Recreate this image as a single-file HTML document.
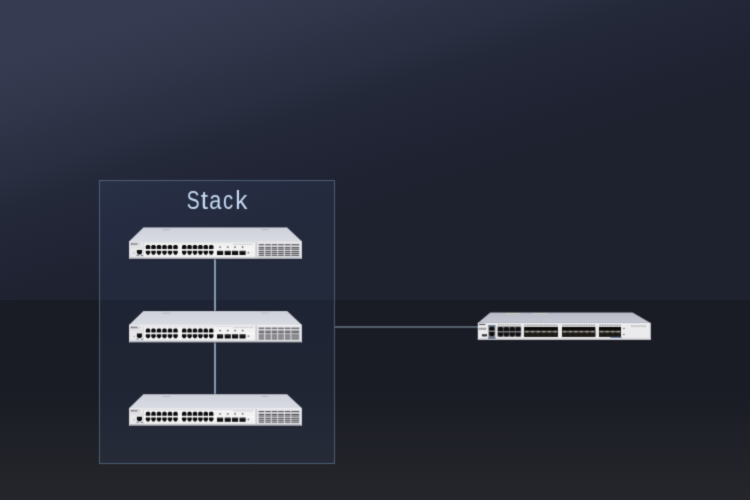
<!DOCTYPE html>
<html><head><meta charset="utf-8"><style>
html,body{margin:0;padding:0;width:750px;height:500px;overflow:hidden;background:#1c1e27;}
svg{display:block;}
</style></head><body>
<svg width="750" height="500" viewBox="0 0 750 500">
<defs>
<linearGradient id="bgTop" x1="18.3" y1="56.8" x2="98.2" y2="304.6" gradientUnits="userSpaceOnUse">
<stop offset="0" stop-color="#363b51"/>
<stop offset="0.2" stop-color="#31364b"/>
<stop offset="0.32" stop-color="#2c3144"/>
<stop offset="0.43" stop-color="#292e40"/>
<stop offset="0.54" stop-color="#24293a"/>
<stop offset="0.65" stop-color="#222637"/>
<stop offset="0.76" stop-color="#202434"/>
<stop offset="0.88" stop-color="#1f2230"/>
<stop offset="1" stop-color="#1e212e"/>
</linearGradient>
<linearGradient id="bgBot" x1="0" y1="300" x2="0" y2="500" gradientUnits="userSpaceOnUse">
<stop offset="0" stop-color="#191b25"/>
<stop offset="0.45" stop-color="#1a1c25"/>
<stop offset="1" stop-color="#25262b"/>
</linearGradient>
<linearGradient id="topA" x1="0" y1="-13.9" x2="0" y2="0" gradientUnits="userSpaceOnUse">
<stop offset="0" stop-color="#cfd1db"/>
<stop offset="1" stop-color="#d9dbe3"/>
</linearGradient>
<linearGradient id="topB" x1="0" y1="-10.2" x2="0" y2="0" gradientUnits="userSpaceOnUse">
<stop offset="0" stop-color="#b8bbc7"/>
<stop offset="1" stop-color="#c5c7d1"/>
</linearGradient>
<linearGradient id="sfp" x1="0" y1="0" x2="0" y2="1">
<stop offset="0" stop-color="#0b0a09"/>
<stop offset="0.3" stop-color="#14120f"/>
<stop offset="0.45" stop-color="#9a968e"/>
<stop offset="0.55" stop-color="#7e7a72"/>
<stop offset="0.72" stop-color="#1f1c18"/>
<stop offset="1" stop-color="#221f1a"/>
</linearGradient>
<filter id="soft" x="-5%" y="-5%" width="110%" height="110%" color-interpolation-filters="sRGB"><feConvolveMatrix order="3" kernelMatrix="0.0225 0.1050 0.0225 0.1050 0.4900 0.1050 0.0225 0.1050 0.0225" divisor="1" edgeMode="none" preserveAlpha="false"/></filter>
<g id="swA"><polygon points="14.4,-13.9 158.1,-13.9 173,0 0,0" fill="url(#topA)"/><rect x="14.4" y="-13.9" width="143.7" height="0.7" fill="#c3c5cf"/><rect x="33.8" y="-12.2" width="7.6" height="1" fill="#b3b5c0"/><rect x="132.4" y="-12.3" width="7.2" height="1" fill="#b3b5c0"/><rect x="0" y="0" width="173" height="17.4" fill="#e8e8eb"/><rect x="0" y="0" width="173" height="0.8" fill="#f2f2f4"/><rect x="0" y="15.8" width="173" height="1.6" fill="#b9bbc2"/><rect x="0" y="17.4" width="173" height="1.2" fill="#141722" opacity="0.45"/><polygon points="14.4,-15 158.1,-15 158.1,-13.9 14.4,-13.9" fill="#141722" opacity="0.3"/><rect x="0" y="0" width="0.7" height="17.4" fill="#d2d3d9"/><rect x="172.1" y="0" width="0.9" height="17.4" fill="#cdced5"/><rect x="1.2" y="1" width="10" height="3.2" fill="#d2d2d6"/><rect x="2" y="1.9" width="1.3" height="1.3" fill="#5c5c62"/><rect x="3.6" y="1.9" width="1.1" height="1.3" fill="#5c5c62"/><rect x="5" y="1.9" width="0.6" height="1.3" fill="#5c5c62"/><rect x="5.9" y="1.9" width="0.6" height="1.3" fill="#5c5c62"/><rect x="6.8" y="1.9" width="1.1" height="1.3" fill="#5c5c62"/><rect x="1.2" y="5.6" width="13.2" height="0.5" fill="#d0d0d5"/><rect x="14.3" y="1" width="0.6" height="15" fill="#cfcfd4"/><path d="M7.9,8.6 L13,8.6 L13,11.3 L11.98,13.1 L8.92,13.1 L7.9,11.3 Z" fill="#0e0e10"/><rect x="7.5" y="13.7" width="2.2" height="0.9" fill="#5a6c8e"/><rect x="11.9" y="13.7" width="2.2" height="0.9" fill="#5a6c8e"/><rect x="4.5" y="11" width="1.1" height="1.3" fill="#a2a2a8"/><rect x="14.6" y="1.5" width="112" height="14.3" fill="#f2f2f3" stroke="#d2d3d8" stroke-width="0.5"/><rect x="15.5" y="8" width="110" height="1.1" fill="#fbfbfb"/><path d="M16.8,7.5 L16.8,4.9 L17.8,3.5 L20.2,3.5 L21.2,4.9 L21.2,7.5 Z" fill="#0a0a0c"/><path d="M16.8,9.3 L21.2,9.3 L21.2,11.3 L20,13.3 L18,13.3 L16.8,11.3 Z" fill="#0a0a0c"/><path d="M22.3,7.5 L22.3,4.9 L23.3,3.5 L25.7,3.5 L26.7,4.9 L26.7,7.5 Z" fill="#0a0a0c"/><path d="M22.3,9.3 L26.7,9.3 L26.7,11.3 L25.5,13.3 L23.5,13.3 L22.3,11.3 Z" fill="#0a0a0c"/><path d="M27.8,7.5 L27.8,4.9 L28.8,3.5 L31.2,3.5 L32.2,4.9 L32.2,7.5 Z" fill="#0a0a0c"/><path d="M27.8,9.3 L32.2,9.3 L32.2,11.3 L31,13.3 L29,13.3 L27.8,11.3 Z" fill="#0a0a0c"/><path d="M33.3,7.5 L33.3,4.9 L34.3,3.5 L36.7,3.5 L37.7,4.9 L37.7,7.5 Z" fill="#0a0a0c"/><path d="M33.3,9.3 L37.7,9.3 L37.7,11.3 L36.5,13.3 L34.5,13.3 L33.3,11.3 Z" fill="#0a0a0c"/><path d="M38.8,7.5 L38.8,4.9 L39.8,3.5 L42.2,3.5 L43.2,4.9 L43.2,7.5 Z" fill="#0a0a0c"/><path d="M38.8,9.3 L43.2,9.3 L43.2,11.3 L42,13.3 L40,13.3 L38.8,11.3 Z" fill="#0a0a0c"/><path d="M44.3,7.5 L44.3,4.9 L45.3,3.5 L47.7,3.5 L48.7,4.9 L48.7,7.5 Z" fill="#0a0a0c"/><path d="M44.3,9.3 L48.7,9.3 L48.7,11.3 L47.5,13.3 L45.5,13.3 L44.3,11.3 Z" fill="#0a0a0c"/><path d="M53,7.5 L53,4.9 L54,3.5 L56.4,3.5 L57.4,4.9 L57.4,7.5 Z" fill="#0a0a0c"/><path d="M53,9.3 L57.4,9.3 L57.4,11.3 L56.2,13.3 L54.2,13.3 L53,11.3 Z" fill="#0a0a0c"/><path d="M58.4,7.5 L58.4,4.9 L59.4,3.5 L61.8,3.5 L62.8,4.9 L62.8,7.5 Z" fill="#0a0a0c"/><path d="M58.4,9.3 L62.8,9.3 L62.8,11.3 L61.6,13.3 L59.6,13.3 L58.4,11.3 Z" fill="#0a0a0c"/><path d="M63.8,7.5 L63.8,4.9 L64.8,3.5 L67.2,3.5 L68.2,4.9 L68.2,7.5 Z" fill="#0a0a0c"/><path d="M63.8,9.3 L68.2,9.3 L68.2,11.3 L67,13.3 L65,13.3 L63.8,11.3 Z" fill="#0a0a0c"/><path d="M69.2,7.5 L69.2,4.9 L70.2,3.5 L72.6,3.5 L73.6,4.9 L73.6,7.5 Z" fill="#0a0a0c"/><path d="M69.2,9.3 L73.6,9.3 L73.6,11.3 L72.4,13.3 L70.4,13.3 L69.2,11.3 Z" fill="#0a0a0c"/><path d="M74.6,7.5 L74.6,4.9 L75.6,3.5 L78,3.5 L79,4.9 L79,7.5 Z" fill="#0a0a0c"/><path d="M74.6,9.3 L79,9.3 L79,11.3 L77.8,13.3 L75.8,13.3 L74.6,11.3 Z" fill="#0a0a0c"/><path d="M80,7.5 L80,4.9 L81,3.5 L83.4,3.5 L84.4,4.9 L84.4,7.5 Z" fill="#0a0a0c"/><path d="M80,9.3 L84.4,9.3 L84.4,11.3 L83.2,13.3 L81.2,13.3 L80,11.3 Z" fill="#0a0a0c"/><rect x="88" y="9.4" width="6.1" height="4.2" fill="#0e0e10"/><rect x="88.5" y="9.9" width="5.1" height="0.45" fill="#55555a"/><rect x="90.4" y="5" width="1.4" height="1.4" fill="#46464c"/><rect x="95.7" y="9.4" width="6.1" height="4.2" fill="#0e0e10"/><rect x="96.2" y="9.9" width="5.1" height="0.45" fill="#55555a"/><rect x="98.1" y="5" width="1.4" height="1.4" fill="#46464c"/><rect x="103" y="9.4" width="6.1" height="4.2" fill="#0e0e10"/><rect x="103.5" y="9.9" width="5.1" height="0.45" fill="#55555a"/><rect x="105.4" y="5" width="1.4" height="1.4" fill="#46464c"/><rect x="110.5" y="9.4" width="6.1" height="4.2" fill="#0e0e10"/><rect x="111" y="9.9" width="5.1" height="0.45" fill="#55555a"/><rect x="112.9" y="5" width="1.4" height="1.4" fill="#46464c"/><rect x="118.6" y="10.5" width="1.6" height="1.6" fill="#7c7c82"/><rect x="104.5" y="2.5" width="1.5" height="0.7" fill="#aeaeb4"/><rect x="106.7" y="2.5" width="1.5" height="0.7" fill="#aeaeb4"/><rect x="108.9" y="2.5" width="1.5" height="0.7" fill="#aeaeb4"/><rect x="111.1" y="2.5" width="1.5" height="0.7" fill="#aeaeb4"/><rect x="113.3" y="2.5" width="1.5" height="0.7" fill="#aeaeb4"/><rect x="115.5" y="2.5" width="1.5" height="0.7" fill="#aeaeb4"/><rect x="117.7" y="2.5" width="1.5" height="0.7" fill="#aeaeb4"/><rect x="119.9" y="2.5" width="1.5" height="0.7" fill="#aeaeb4"/><rect x="122.1" y="2.5" width="1.5" height="0.7" fill="#aeaeb4"/><rect x="126.6" y="0.6" width="1.4" height="16" fill="#cbccd3"/><rect x="129.2" y="2.2" width="41.4" height="13.2" fill="#dcdce0"/><rect x="129.8" y="2.8" width="5.3" height="1.1" fill="#525055"/><rect x="129.8" y="5.7" width="5.3" height="1.1" fill="#525055"/><rect x="129.8" y="7.3" width="5.3" height="1.1" fill="#525055"/><rect x="129.8" y="9.6" width="5.3" height="1.1" fill="#525055"/><rect x="129.8" y="11.5" width="5.3" height="1.1" fill="#525055"/><rect x="129.8" y="13.4" width="5.3" height="1.1" fill="#525055"/><rect x="136.3" y="2.8" width="5.5" height="1.1" fill="#525055"/><rect x="136.3" y="5.7" width="5.5" height="1.1" fill="#525055"/><rect x="136.3" y="7.3" width="5.5" height="1.1" fill="#525055"/><rect x="136.3" y="9.6" width="5.5" height="1.1" fill="#525055"/><rect x="136.3" y="11.5" width="5.5" height="1.1" fill="#525055"/><rect x="136.3" y="13.4" width="5.5" height="1.1" fill="#525055"/><rect x="142.8" y="2.8" width="5.4" height="1.1" fill="#525055"/><rect x="142.8" y="5.7" width="5.4" height="1.1" fill="#525055"/><rect x="142.8" y="7.3" width="5.4" height="1.1" fill="#525055"/><rect x="142.8" y="9.6" width="5.4" height="1.1" fill="#525055"/><rect x="142.8" y="11.5" width="5.4" height="1.1" fill="#525055"/><rect x="142.8" y="13.4" width="5.4" height="1.1" fill="#525055"/><rect x="149.2" y="2.8" width="5.6" height="1.1" fill="#525055"/><rect x="149.2" y="5.7" width="5.6" height="1.1" fill="#525055"/><rect x="149.2" y="7.3" width="5.6" height="1.1" fill="#525055"/><rect x="149.2" y="9.6" width="5.6" height="1.1" fill="#525055"/><rect x="149.2" y="11.5" width="5.6" height="1.1" fill="#525055"/><rect x="149.2" y="13.4" width="5.6" height="1.1" fill="#525055"/><rect x="155.9" y="2.8" width="5.5" height="1.1" fill="#525055"/><rect x="155.9" y="5.7" width="5.5" height="1.1" fill="#525055"/><rect x="155.9" y="7.3" width="5.5" height="1.1" fill="#525055"/><rect x="155.9" y="9.6" width="5.5" height="1.1" fill="#525055"/><rect x="155.9" y="11.5" width="5.5" height="1.1" fill="#525055"/><rect x="155.9" y="13.4" width="5.5" height="1.1" fill="#525055"/><rect x="162.4" y="2.8" width="7.8" height="1.1" fill="#525055"/><rect x="162.4" y="5.7" width="7.8" height="1.1" fill="#525055"/><rect x="162.4" y="7.3" width="7.8" height="1.1" fill="#525055"/><rect x="162.4" y="9.6" width="7.8" height="1.1" fill="#525055"/><rect x="162.4" y="11.5" width="7.8" height="1.1" fill="#525055"/><rect x="162.4" y="13.4" width="7.8" height="1.1" fill="#525055"/></g>
<g id="swB"><polygon points="12.4,-10.4 154.8,-10.4 172.8,0 0,0" fill="url(#topB)"/><rect x="28.2" y="-9.9" width="14.5" height="1" fill="#d2d0c4"/><rect x="55" y="-9.9" width="14.4" height="1" fill="#d6d3c0"/><rect x="0" y="-0.5" width="172.8" height="0.6" fill="#a9abb3"/><rect x="0" y="0" width="172.8" height="16.7" fill="#ebebed"/><rect x="0" y="15.5" width="172.8" height="1.2" fill="#c6c7cd"/><rect x="172" y="0" width="0.8" height="16.7" fill="#d2d3d8"/><rect x="1.2" y="0.9" width="6.4" height="1.1" fill="#505056"/><circle cx="1.9" cy="5.8" r="0.7" fill="none" stroke="#4a4a50" stroke-width="0.55"/><circle cx="3.75" cy="5.8" r="0.7" fill="none" stroke="#4a4a50" stroke-width="0.55"/><circle cx="5.6" cy="5.8" r="0.7" fill="none" stroke="#4a4a50" stroke-width="0.55"/><circle cx="7.45" cy="5.8" r="0.7" fill="none" stroke="#4a4a50" stroke-width="0.55"/><rect x="4.2" y="11" width="5" height="2.4" fill="#2c2c2e"/><rect x="4.6" y="11.2" width="4.2" height="0.6" fill="#8a8a8e"/><rect x="10.45" y="2.25" width="7.15" height="13.55" fill="#8e9098"/><rect x="10.45" y="2.25" width="7.15" height="1.35" fill="#5a6c8e"/><rect x="10.45" y="14.5" width="7.15" height="1.3" fill="#5a6c8e"/><rect x="11.1" y="3.6" width="5.85" height="10.9" fill="#7c7c80"/><path d="M11.4,4.67 L12.46,3.7 L15.64,3.7 L16.7,4.67 L16.7,7.6 L11.4,7.6 Z" fill="#0e0e10"/><path d="M11.4,9 L16.7,9 L16.7,11.58 L15.64,13.3 L12.46,13.3 L11.4,11.58 Z" fill="#0e0e10"/><rect x="19.6" y="3.4" width="23.8" height="10.4" fill="#76767a"/><rect x="20.3" y="1.5" width="1.4" height="0.8" fill="#74747a"/><rect x="22.65" y="1.5" width="1.4" height="0.8" fill="#74747a"/><rect x="25" y="1.5" width="1.4" height="0.8" fill="#74747a"/><rect x="27.35" y="1.5" width="1.4" height="0.8" fill="#74747a"/><rect x="29.7" y="1.5" width="1.4" height="0.8" fill="#74747a"/><rect x="32.05" y="1.5" width="1.4" height="0.8" fill="#74747a"/><rect x="34.4" y="1.5" width="1.4" height="0.8" fill="#74747a"/><rect x="36.75" y="1.5" width="1.4" height="0.8" fill="#74747a"/><rect x="39.1" y="1.5" width="1.4" height="0.8" fill="#74747a"/><rect x="41.45" y="1.5" width="1.4" height="0.8" fill="#74747a"/><path d="M20.1,4.92 L21.14,3.9 L24.26,3.9 L25.3,4.92 L25.3,8 L20.1,8 Z" fill="#0f0f11"/><path d="M20.1,9.4 L25.3,9.4 L25.3,11.86 L24.26,13.5 L21.14,13.5 L20.1,11.86 Z" fill="#0f0f11"/><path d="M25.95,4.92 L26.99,3.9 L30.11,3.9 L31.15,4.92 L31.15,8 L25.95,8 Z" fill="#0f0f11"/><path d="M25.95,9.4 L31.15,9.4 L31.15,11.86 L30.11,13.5 L26.99,13.5 L25.95,11.86 Z" fill="#0f0f11"/><path d="M31.8,4.92 L32.84,3.9 L35.96,3.9 L37,4.92 L37,8 L31.8,8 Z" fill="#0f0f11"/><path d="M31.8,9.4 L37,9.4 L37,11.86 L35.96,13.5 L32.84,13.5 L31.8,11.86 Z" fill="#0f0f11"/><path d="M37.65,4.92 L38.69,3.9 L41.81,3.9 L42.85,4.92 L42.85,8 L37.65,8 Z" fill="#0f0f11"/><path d="M37.65,9.4 L42.85,9.4 L42.85,11.86 L41.81,13.5 L38.69,13.5 L37.65,11.86 Z" fill="#0f0f11"/><rect x="46.3" y="3.9" width="33.8" height="9.8" fill="#0c0b0a"/><rect x="46.3" y="9.6" width="33.8" height="4.1" fill="#1e1b17"/><rect x="46.3" y="7.6" width="33.8" height="2" fill="#4a4740"/><ellipse cx="49.12" cy="8.6" rx="2.14" ry="0.95" fill="#aaa69e" opacity="0.85"/><ellipse cx="54.75" cy="8.6" rx="2.14" ry="0.95" fill="#aaa69e" opacity="0.85"/><ellipse cx="60.38" cy="8.6" rx="2.14" ry="0.95" fill="#aaa69e" opacity="0.85"/><ellipse cx="66.02" cy="8.6" rx="2.14" ry="0.95" fill="#aaa69e" opacity="0.85"/><ellipse cx="71.65" cy="8.6" rx="2.14" ry="0.95" fill="#aaa69e" opacity="0.85"/><ellipse cx="77.28" cy="8.6" rx="2.14" ry="0.95" fill="#aaa69e" opacity="0.85"/><rect x="51.63" y="3.9" width="0.6" height="9.8" fill="#050505" opacity="0.6"/><rect x="51.63" y="7.8" width="0.6" height="1.6" fill="#c8c4bc" opacity="0.7"/><rect x="57.27" y="3.9" width="0.6" height="9.8" fill="#050505" opacity="0.6"/><rect x="57.27" y="7.8" width="0.6" height="1.6" fill="#c8c4bc" opacity="0.7"/><rect x="62.9" y="3.9" width="0.6" height="9.8" fill="#050505" opacity="0.6"/><rect x="62.9" y="7.8" width="0.6" height="1.6" fill="#c8c4bc" opacity="0.7"/><rect x="68.53" y="3.9" width="0.6" height="9.8" fill="#050505" opacity="0.6"/><rect x="68.53" y="7.8" width="0.6" height="1.6" fill="#c8c4bc" opacity="0.7"/><rect x="74.17" y="3.9" width="0.6" height="9.8" fill="#050505" opacity="0.6"/><rect x="74.17" y="7.8" width="0.6" height="1.6" fill="#c8c4bc" opacity="0.7"/><rect x="46.3" y="1.4" width="33.8" height="2" fill="#dcdcde"/><rect x="46.8" y="1.8" width="1.4" height="0.8" fill="#6a6a70"/><rect x="49.21" y="1.8" width="1.4" height="0.8" fill="#6a6a70"/><rect x="51.63" y="1.8" width="1.4" height="0.8" fill="#6a6a70"/><rect x="54.04" y="1.8" width="1.4" height="0.8" fill="#6a6a70"/><rect x="56.46" y="1.8" width="1.4" height="0.8" fill="#6a6a70"/><rect x="58.87" y="1.8" width="1.4" height="0.8" fill="#6a6a70"/><rect x="61.29" y="1.8" width="1.4" height="0.8" fill="#6a6a70"/><rect x="63.7" y="1.8" width="1.4" height="0.8" fill="#6a6a70"/><rect x="66.11" y="1.8" width="1.4" height="0.8" fill="#6a6a70"/><rect x="68.53" y="1.8" width="1.4" height="0.8" fill="#6a6a70"/><rect x="70.94" y="1.8" width="1.4" height="0.8" fill="#6a6a70"/><rect x="73.36" y="1.8" width="1.4" height="0.8" fill="#6a6a70"/><rect x="75.77" y="1.8" width="1.4" height="0.8" fill="#6a6a70"/><rect x="78.19" y="1.8" width="1.4" height="0.8" fill="#6a6a70"/><rect x="84.2" y="3.9" width="33.3" height="9.8" fill="#0c0b0a"/><rect x="84.2" y="9.6" width="33.3" height="4.1" fill="#1e1b17"/><rect x="84.2" y="7.6" width="33.3" height="2" fill="#4a4740"/><ellipse cx="86.98" cy="8.6" rx="2.11" ry="0.95" fill="#aaa69e" opacity="0.85"/><ellipse cx="92.53" cy="8.6" rx="2.11" ry="0.95" fill="#aaa69e" opacity="0.85"/><ellipse cx="98.08" cy="8.6" rx="2.11" ry="0.95" fill="#aaa69e" opacity="0.85"/><ellipse cx="103.62" cy="8.6" rx="2.11" ry="0.95" fill="#aaa69e" opacity="0.85"/><ellipse cx="109.17" cy="8.6" rx="2.11" ry="0.95" fill="#aaa69e" opacity="0.85"/><ellipse cx="114.72" cy="8.6" rx="2.11" ry="0.95" fill="#aaa69e" opacity="0.85"/><rect x="89.45" y="3.9" width="0.6" height="9.8" fill="#050505" opacity="0.6"/><rect x="89.45" y="7.8" width="0.6" height="1.6" fill="#c8c4bc" opacity="0.7"/><rect x="95" y="3.9" width="0.6" height="9.8" fill="#050505" opacity="0.6"/><rect x="95" y="7.8" width="0.6" height="1.6" fill="#c8c4bc" opacity="0.7"/><rect x="100.55" y="3.9" width="0.6" height="9.8" fill="#050505" opacity="0.6"/><rect x="100.55" y="7.8" width="0.6" height="1.6" fill="#c8c4bc" opacity="0.7"/><rect x="106.1" y="3.9" width="0.6" height="9.8" fill="#050505" opacity="0.6"/><rect x="106.1" y="7.8" width="0.6" height="1.6" fill="#c8c4bc" opacity="0.7"/><rect x="111.65" y="3.9" width="0.6" height="9.8" fill="#050505" opacity="0.6"/><rect x="111.65" y="7.8" width="0.6" height="1.6" fill="#c8c4bc" opacity="0.7"/><rect x="84.2" y="1.4" width="33.3" height="2" fill="#dcdcde"/><rect x="84.7" y="1.8" width="1.4" height="0.8" fill="#6a6a70"/><rect x="87.08" y="1.8" width="1.4" height="0.8" fill="#6a6a70"/><rect x="89.46" y="1.8" width="1.4" height="0.8" fill="#6a6a70"/><rect x="91.84" y="1.8" width="1.4" height="0.8" fill="#6a6a70"/><rect x="94.21" y="1.8" width="1.4" height="0.8" fill="#6a6a70"/><rect x="96.59" y="1.8" width="1.4" height="0.8" fill="#6a6a70"/><rect x="98.97" y="1.8" width="1.4" height="0.8" fill="#6a6a70"/><rect x="101.35" y="1.8" width="1.4" height="0.8" fill="#6a6a70"/><rect x="103.73" y="1.8" width="1.4" height="0.8" fill="#6a6a70"/><rect x="106.11" y="1.8" width="1.4" height="0.8" fill="#6a6a70"/><rect x="108.49" y="1.8" width="1.4" height="0.8" fill="#6a6a70"/><rect x="110.86" y="1.8" width="1.4" height="0.8" fill="#6a6a70"/><rect x="113.24" y="1.8" width="1.4" height="0.8" fill="#6a6a70"/><rect x="115.62" y="1.8" width="1.4" height="0.8" fill="#6a6a70"/><rect x="121.2" y="3.9" width="22" height="9.8" fill="#0c0b0a"/><rect x="121.2" y="9.6" width="22" height="4.1" fill="#1e1b17"/><rect x="121.2" y="7.6" width="22" height="2" fill="#4a4740"/><ellipse cx="123.95" cy="8.6" rx="2.09" ry="0.95" fill="#aaa69e" opacity="0.85"/><ellipse cx="129.45" cy="8.6" rx="2.09" ry="0.95" fill="#aaa69e" opacity="0.85"/><ellipse cx="134.95" cy="8.6" rx="2.09" ry="0.95" fill="#aaa69e" opacity="0.85"/><ellipse cx="140.45" cy="8.6" rx="2.09" ry="0.95" fill="#aaa69e" opacity="0.85"/><rect x="126.4" y="3.9" width="0.6" height="9.8" fill="#050505" opacity="0.6"/><rect x="126.4" y="7.8" width="0.6" height="1.6" fill="#c8c4bc" opacity="0.7"/><rect x="131.9" y="3.9" width="0.6" height="9.8" fill="#050505" opacity="0.6"/><rect x="131.9" y="7.8" width="0.6" height="1.6" fill="#c8c4bc" opacity="0.7"/><rect x="137.4" y="3.9" width="0.6" height="9.8" fill="#050505" opacity="0.6"/><rect x="137.4" y="7.8" width="0.6" height="1.6" fill="#c8c4bc" opacity="0.7"/><rect x="121.2" y="1.4" width="22" height="2" fill="#dcdcde"/><rect x="121.7" y="1.8" width="1.4" height="0.8" fill="#6a6a70"/><rect x="124.14" y="1.8" width="1.4" height="0.8" fill="#6a6a70"/><rect x="126.59" y="1.8" width="1.4" height="0.8" fill="#6a6a70"/><rect x="129.03" y="1.8" width="1.4" height="0.8" fill="#6a6a70"/><rect x="131.48" y="1.8" width="1.4" height="0.8" fill="#6a6a70"/><rect x="133.92" y="1.8" width="1.4" height="0.8" fill="#6a6a70"/><rect x="136.37" y="1.8" width="1.4" height="0.8" fill="#6a6a70"/><rect x="138.81" y="1.8" width="1.4" height="0.8" fill="#6a6a70"/><rect x="141.26" y="1.8" width="1.4" height="0.8" fill="#6a6a70"/><rect x="132.5" y="14" width="11.4" height="0.9" fill="#5a78a8"/><rect x="145.4" y="4.9" width="1.4" height="1.2" fill="#6a6a70"/><rect x="145.4" y="10.9" width="1.4" height="1.2" fill="#6a6a70"/><rect x="153.2" y="2.7" width="1.3" height="0.7" fill="#6e6e74"/><rect x="155.15" y="2.7" width="1.3" height="0.7" fill="#6e6e74"/><rect x="157.1" y="2.7" width="1.3" height="0.7" fill="#6e6e74"/><rect x="159.05" y="2.7" width="1.3" height="0.7" fill="#6e6e74"/><rect x="161" y="2.7" width="1.3" height="0.7" fill="#6e6e74"/><rect x="162.95" y="2.7" width="1.3" height="0.7" fill="#6e6e74"/><rect x="164.9" y="2.7" width="1.3" height="0.7" fill="#6e6e74"/><rect x="166.85" y="2.7" width="1.3" height="0.7" fill="#6e6e74"/></g>
</defs>
<rect x="0" y="0" width="750" height="300" fill="url(#bgTop)"/>
<rect x="0" y="300" width="750" height="200" fill="url(#bgBot)"/>
<g filter="url(#soft)">
<rect x="99.5" y="180.5" width="235" height="283" fill="rgba(70,95,140,0.15)" stroke="rgba(110,134,164,0.56)" stroke-width="1"/>
<g font-family="Liberation Sans, sans-serif" font-size="25" fill="#c6dbf3"><text transform="translate(186.67,209) scale(0.77,1)">S</text><text transform="translate(200.82,209) scale(1.05,1)">t</text><text transform="translate(209.25,209) scale(0.87,1)">a</text><text transform="translate(223.11,209) scale(0.81,1)">c</text><text transform="translate(235.15,209) scale(0.97,1)">k</text></g>
<rect x="214" y="258" width="2" height="53" fill="#8a9ab1"/>
<rect x="214" y="341" width="2" height="54" fill="#8a9ab1"/>
<rect x="335" y="326" width="143" height="2" fill="#56606e"/>
<use href="#swA" transform="translate(129,241.4)"/>
<use href="#swA" transform="translate(129,324.9)"/>
<use href="#swA" transform="translate(129,408.2)"/>
<use href="#swB" transform="translate(477.8,323)"/>
</g>
</svg>
</body></html>
